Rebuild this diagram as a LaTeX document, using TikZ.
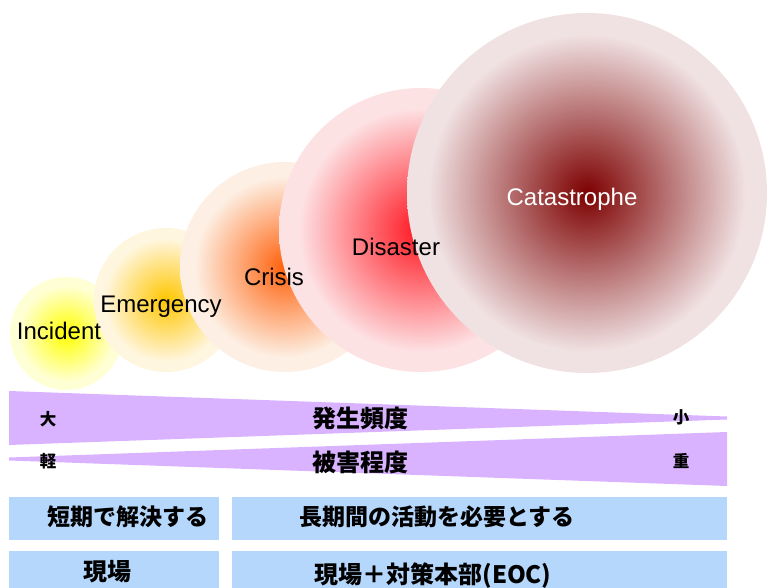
\documentclass[tikz,border=0pt]{standalone}
\usepackage{fontspec}
\setmainfont{Liberation Sans}
\newfontfamily\cjk{Noto Sans CJK JP}
\definecolor{incin}{RGB}{255,255,0}
\definecolor{incout}{RGB}{255,255,214}
\definecolor{emein}{RGB}{255,198,0}
\definecolor{emeout}{RGB}{255,246,224}
\definecolor{criin}{RGB}{255,96,10}
\definecolor{criout}{RGB}{253,239,227}
\definecolor{disin}{RGB}{255,20,30}
\definecolor{disout}{RGB}{253,226,228}
\definecolor{catin}{RGB}{125,0,0}
\definecolor{catout}{RGB}{240,225,226}
\definecolor{wedge}{RGB}{217,179,255}
\definecolor{boxblue}{RGB}{181,215,252}
\pgfdeclareradialshading{incsh}{\pgfpoint{0bp}{0bp}}{color(0bp)=(incin); color(21.5bp)=(incout); color(25bp)=(incout); color(50bp)=(incout)}
\pgfdeclareradialshading{emesh}{\pgfpoint{0bp}{0bp}}{color(0bp)=(emein); color(21.5bp)=(emeout); color(25bp)=(emeout); color(50bp)=(emeout)}
\pgfdeclareradialshading{crish}{\pgfpoint{0bp}{0bp}}{color(0bp)=(criin); color(21.5bp)=(criout); color(25bp)=(criout); color(50bp)=(criout)}
\pgfdeclareradialshading{dissh}{\pgfpoint{0bp}{0bp}}{color(0bp)=(disin); color(21.5bp)=(disout); color(25bp)=(disout); color(50bp)=(disout)}
\pgfdeclareradialshading{catsh}{\pgfpoint{0bp}{0bp}}{color(0bp)=(catin); color(22bp)=(catout); color(25bp)=(catout); color(50bp)=(catout)}
\begin{document}
\begin{tikzpicture}[x=1pt,y=-1pt,
  enlabel/.style={font=\fontsize{24}{28}\selectfont, text=black, inner sep=0pt},
  bigjp/.style={font=\cjk\bfseries\fontsize{24}{28}\selectfont, inner sep=0pt},
  midjp/.style={font=\cjk\bfseries\fontsize{23}{27}\selectfont, inner sep=0pt},
  smalljp/.style={font=\cjk\bfseries\fontsize{16.5}{18}\selectfont, inner sep=0pt},
  band/.style={fill=wedge, draw=none},
  bluebox/.style={fill=boxblue, draw=none}]
\useasboundingbox (0,0) rectangle (771,588);
% circles
\shade[shading=incsh] (66.5,333.5) circle (56.5pt);
\shade[shading=emesh] (166,300) circle (72pt);
\shade[shading=crish] (285,267) circle (105pt);
\shade[shading=dissh] (421,230) circle (142pt);
\shade[shading=catsh] (587,193) circle (180pt);
% labels
\node[enlabel] (inc) at (59,331) {Incident};
\node[enlabel] (eme) at (161,307) {Emergency};
\node[enlabel] (cri) at (274,277) {Crisis};
\node[enlabel] (dis) at (396,247) {Disaster};
\node[enlabel, text=white] (cat) at (572,199) {Catastrophe};
% wedges
\path[band] (9,391) -- (727,416.5) -- (727,419.5) -- (9,445) -- cycle;
\path[band] (9,457.5) -- (727,432) -- (727,486) -- (9,460.5) -- cycle;
\node[smalljp] (dai) at (48,419) {大};
\node[smalljp] (sho) at (681,417) {小};
\node[smalljp] (kei) at (48,461) {軽};
\node[smalljp] (ju) at (681,461) {重};
\node[bigjp] (freq) at (360,418) {発生頻度};
\node[bigjp] (dmg) at (360,462) {被害程度};
% boxes
\path[bluebox] (9,497) rectangle (219,540);
\path[bluebox] (232,497) rectangle (727,540);
\path[bluebox] (9,551) rectangle (219,588);
\path[bluebox] (232,551) rectangle (727,588);
\node[midjp] (short) at (128,517) {短期で解決する};
\node[midjp] (long) at (437,517) {長期間の活動を必要とする};
\node[bigjp] (site) at (107,572) {現場};
\node[bigjp] (eoc) at (433,576) {現場＋対策本部(EOC)};
\end{tikzpicture}
\end{document}
